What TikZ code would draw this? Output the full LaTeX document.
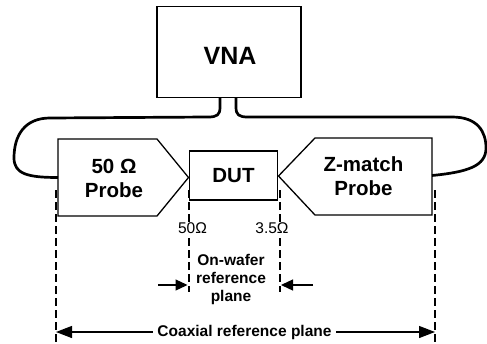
\documentclass[tikz,border=0pt]{standalone}
\usepackage{fontspec}
\setmainfont{Liberation Sans}
\usetikzlibrary{arrows.meta}

\begin{document}
\begin{tikzpicture}[x=1pt, y=-1pt,
          box/.style={draw, line width=1.3pt, inner sep=0},
          cable/.style={line width=2.7pt, line join=round},
          refline/.style={line width=2pt, dash pattern=on 8pt off 4pt},
          big/.style={font=\bfseries\fontsize{20.5}{24}\selectfont, align=center},
          small/.style={font=\bfseries\fontsize{15.5}{18}\selectfont, align=center},
          imp/.style={font=\fontsize{15.5}{18}\selectfont, fill=white, inner sep=1pt},
          dim/.style={line width=1.3pt, -{Triangle[length=12pt, width=11pt]}, shorten >=1.5pt},
          coaxdim/.style={line width=1.3pt, {Triangle[length=16pt, width=12pt]}-{Triangle[length=16pt, width=12pt]}}
        ]
        \useasboundingbox (0,0) rectangle (487,343);

        % ---- VNA and DUT ----
        \node[box, minimum width=144pt, minimum height=91pt] (vna) at (229,52) {};
        \node[font=\bfseries\fontsize{25}{30}\selectfont] (vnalbl) at (230,56) {VNA};
        \node[box, big, minimum width=88pt, minimum height=49pt] (dut) at (233.5,175.5) {DUT};

        % ---- probes (outline + label) ----
        \coordinate (lp-w) at (58,177.5);
        \coordinate (rp-e) at (432,175.5);
        \draw[box] (58,139) -- (157,139) -- (188.5,177.5) -- (157,216) -- (58,216) -- cycle;
        \draw[box] (432,138) -- (315,138) -- (278.5,176) -- (315,215) -- (432,215) -- cycle;
        \node[big] (lprobe) at (114,178) {50 Ω\\Probe};
        \node[big] (rprobe) at (363.5,176) {Z-match\\Probe};

        % ---- cables from the VNA ----
        \draw[cable] ([xshift=-9pt]vna.south) -- ++(0,9)
          .. controls (220,115) and (217,117) .. (208,117) -- (50,118)
          .. controls (25,118) and (14,135) .. (14,158)
          .. controls (14,174) and (28,177.5) .. (lp-w);
        \draw[cable] ([xshift=7pt]vna.south) -- ++(0,9)
          .. controls (236,115) and (239,117) .. (248,117) -- (452,117)
          .. controls (478,117) and (486,132) .. (486,148)
          .. controls (486,166) and (468,172) .. (rp-e);

        % ---- reference planes ----
        \coordinate (ol) at (55.7,190);
        \coordinate (il) at (189,190);
        \coordinate (ir) at (279.5,190);
        \coordinate (or) at (435,190);
        \draw[refline] (ol) -- ++(0,153);
        \draw[refline] (or) -- ++(0,153);
        \draw[refline] (il) -- ++(0,102);
        \draw[refline] (ir) -- ++(0,102);

        \node[imp] (z50) at (192.5,228) {50Ω};
        \node[imp] (z35) at (272,228) {3.5Ω};

        % ---- on-wafer reference plane ----
        \node[small] (owrp) at (231,279) {On-wafer\\reference\\plane};
        \coordinate (owl) at (158,285);
        \coordinate (owr) at (313,285);
        \draw[dim] (owl) -- (owl -| il);
        \draw[dim] (owr) -- (owr -| ir);

        % ---- coaxial reference plane ----
        \coordinate (cxl) at (56,332);
        \coordinate (cxr) at (435,332);
        \draw[coaxdim] (cxl) -- (cxr);
        \node[small, fill=white, inner xsep=4pt, inner ysep=1pt] (coax) at (244.5,332) {Coaxial reference plane};

      \end{tikzpicture}
\end{document}
